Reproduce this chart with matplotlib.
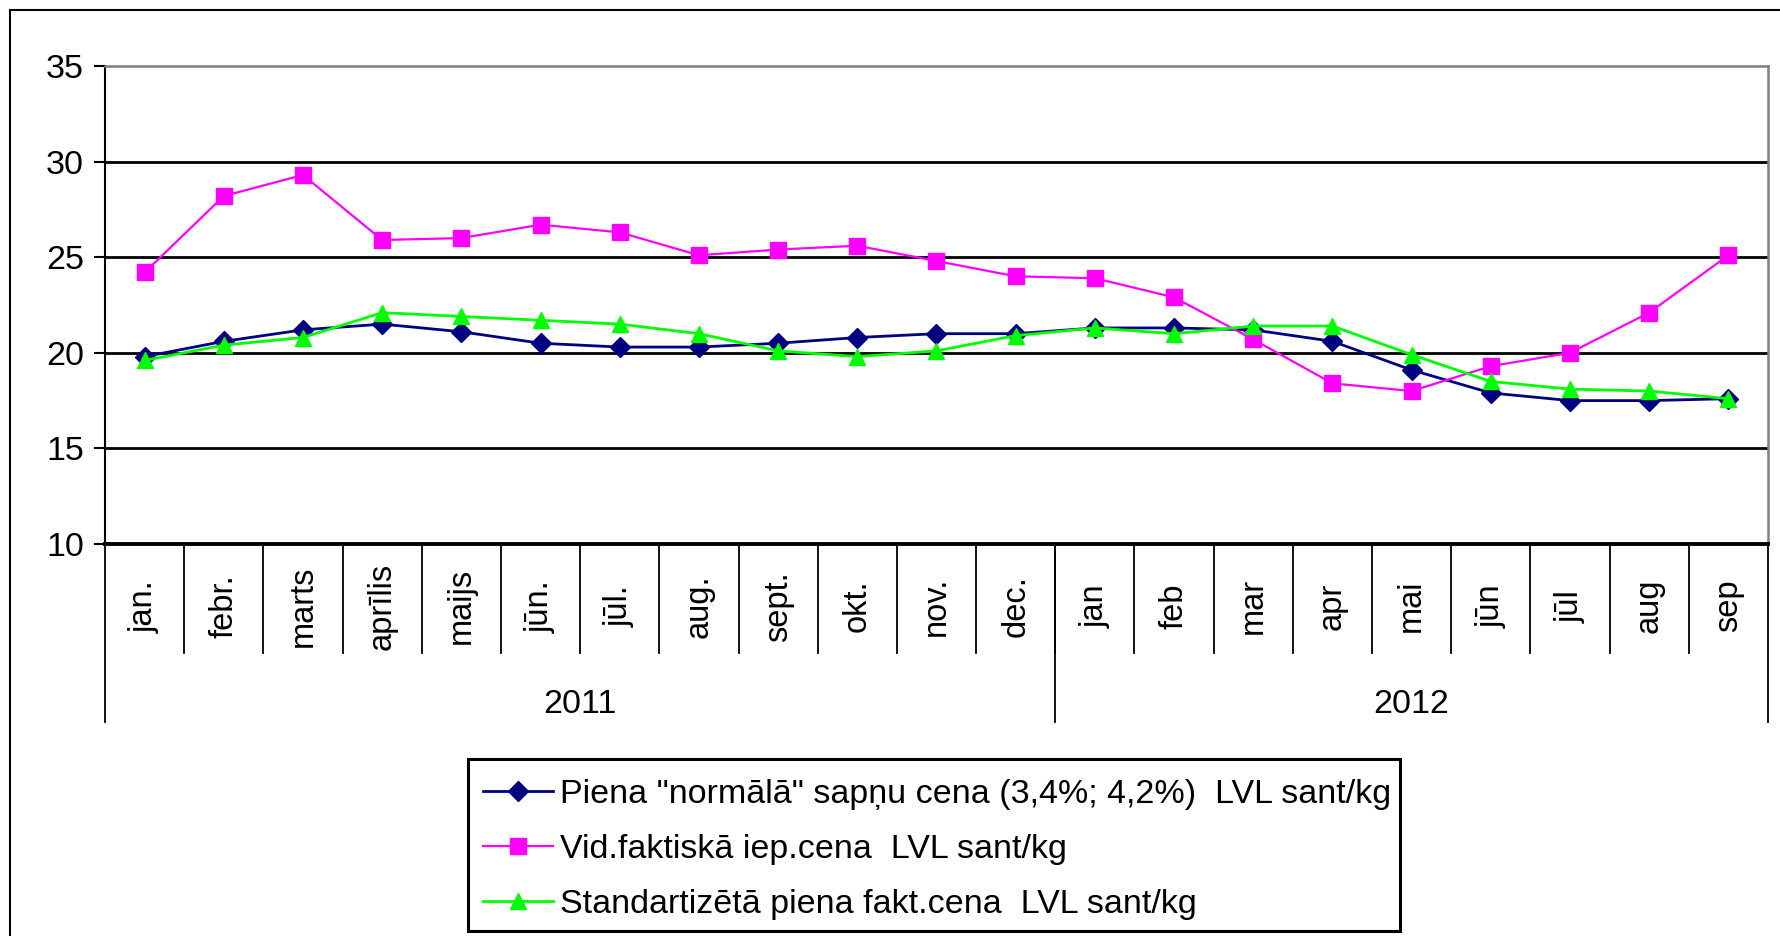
import matplotlib
matplotlib.use("Agg")
import matplotlib.pyplot as plt
from matplotlib.lines import Line2D
from matplotlib.patches import Rectangle
import matplotlib.transforms as mtransforms

plt.rcParams['font.family'] = ['Liberation Sans', 'DejaVu Sans']

months = ['jan.', 'febr.', 'marts', 'aprīlis', 'maijs', 'jūn.', 'jūl.', 'aug.', 'sept.', 'okt.', 'nov.', 'dec.',
          'jan', 'feb', 'mar', 'apr', 'mai', 'jūn', 'jūl', 'aug', 'sep']
years = ['2011', '2012']
year_counts = [12, 9]

normala = [19.8, 20.6, 21.2, 21.5, 21.1, 20.5, 20.3, 20.3, 20.5, 20.8, 21.0, 21.0,
           21.3, 21.3, 21.2, 20.6, 19.1, 17.9, 17.5, 17.5, 17.6]
faktiska = [24.2, 28.2, 29.3, 25.9, 26.0, 26.7, 26.3, 25.1, 25.4, 25.6, 24.8, 24.0,
            23.9, 22.9, 20.7, 18.4, 18.0, 19.3, 20.0, 22.1, 25.1]
standart = [19.6, 20.4, 20.8, 22.1, 21.9, 21.7, 21.5, 21.0, 20.1, 19.8, 20.1, 20.9,
            21.3, 21.0, 21.4, 21.4, 19.9, 18.5, 18.1, 18.0, 17.6]

labels = ['Piena "normālā" sapņu cena (3,4%; 4,2%)  LVL sant/kg',
          'Vid.faktiskā iep.cena  LVL sant/kg',
          'Standartizētā piena fakt.cena  LVL sant/kg']

W, H = 1781, 936
fig = plt.figure(figsize=(W / 100, H / 100), dpi=100)
fs = 24.5      # ticks, years, legend
fs_m = 23.5    # month labels

# outer chart border (top and left)
fig.add_artist(Line2D([10 / W, 10 / W], [0, 1 - 10 / H], color='black', lw=1.5, transform=fig.transFigure))
fig.add_artist(Line2D([10 / W, 1], [1 - 10 / H, 1 - 10 / H], color='black', lw=1.5, transform=fig.transFigure))

ax = fig.add_axes([105 / W, 1 - 544 / H, (1768 - 105) / W, (544 - 66) / H])
x = list(range(len(months)))

ax.plot(x, normala, color='#000080', lw=2.0, marker='D', ms=10, label=labels[0], zorder=3)
ax.plot(x, faktiska, color='#FF00FF', lw=1.6, marker='s', ms=11, label=labels[1], zorder=3)
ax.plot(x, standart, color='#00FF00', lw=2.0, marker='^', ms=12, label=labels[2], zorder=3)

ax.set_xlim(-0.5, len(months) - 0.5)
ax.set_ylim(10, 35)
ax.set_yticks([10, 15, 20, 25, 30, 35])
ax.tick_params(axis='y', direction='out', length=8, width=1.5, labelsize=fs, pad=7)
ax.set_xticks([])
for v in [15, 20, 25, 30]:
    ax.axhline(v, color='black', lw=2.0, zorder=1)

for s in ['top', 'right']:
    ax.spines[s].set_color('#808080')
    ax.spines[s].set_linewidth(1.8)
ax.spines['left'].set_linewidth(1.5)
ax.spines['bottom'].set_linewidth(2.8)

# multi-level category axis
trans = mtransforms.blended_transform_factory(ax.transData, ax.transAxes)
month_bottom = -(653 - 544) / (544 - 66)
year_bottom = -(722 - 544) / (544 - 66)
for i in range(len(months) - 1):
    ax.plot([i + 0.5, i + 0.5], [0, month_bottom], color='black', lw=1.3, transform=trans, clip_on=False)
for i, m in enumerate(months):
    ax.text(i, -0.13, m, rotation=90, ha='center', va='center', fontsize=fs_m, transform=trans)

start = -0.5
ax.plot([start, start], [0, year_bottom], color='black', lw=1.3, transform=trans, clip_on=False)
for yname, cnt in zip(years, year_counts):
    end = start + cnt
    ax.plot([end, end], [0, year_bottom], color='black', lw=1.3, transform=trans, clip_on=False)
    ax.text((start + end) / 2, -0.335, yname, ha='center', va='center', fontsize=fs, transform=trans)
    start = end

# legend box drawn separately so its padding matches the original
fig.add_artist(Rectangle((468 / W, 1 - 931 / H), (1400 - 468) / W, (931 - 759) / H,
                         transform=fig.transFigure, fill=False, edgecolor='black', lw=2.2))
leg = fig.legend(loc='upper left', bbox_to_anchor=(483 / W, 1 - 779 / H), borderaxespad=0,
                 fontsize=fs, frameon=False, handlelength=2.05, handletextpad=0.22,
                 labelspacing=0.7, borderpad=0)

fig.savefig('out.png', dpi=100)
